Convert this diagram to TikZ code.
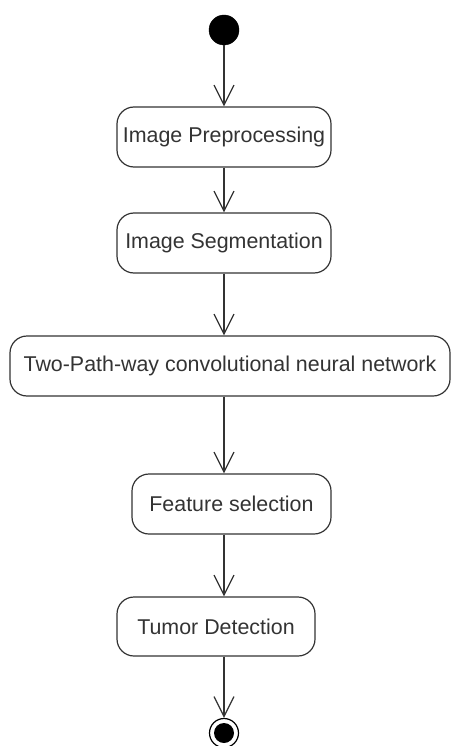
\documentclass[tikz,border=0pt]{standalone}
\usepackage{fontspec}
\setmainfont{Liberation Sans}
\usetikzlibrary{arrows.meta}
\definecolor{ln}{HTML}{333333}
\begin{document}
\begin{tikzpicture}[x=1pt,y=-1pt,
  act/.style={draw=ln, line width=1.2pt, rounded corners=17pt, minimum height=60pt,
    inner sep=0pt, text=ln, font=\fontsize{21.4}{24}\selectfont},
  arr/.style={draw=ln, line width=1.2pt, -{Straight Barb[length=20pt,width=20pt,line width=1.2pt]}}
]
\useasboundingbox (0,0) rectangle (451,746);
\node[circle, fill=black, draw=black, minimum size=30pt, inner sep=0pt] (s) at (224,30) {};
\node[act, minimum width=214pt] (n1) at (224,137) {Image Preprocessing};
\node[act, minimum width=214pt] (n2) at (224,243) {Image Segmentation};
\node[act, minimum width=440pt] (n3) at (230,366) {Two-Path-way convolutional neural network};
\node[act, minimum width=199pt] (n4) at (231.5,504) {Feature selection};
\node[act, minimum width=198pt, minimum height=59pt] (n5) at (216,626.5) {Tumor Detection};
\node[circle, draw=black, line width=1.2pt, minimum size=29pt, inner sep=0pt] (e) at (224,733) {};
\node[circle, fill=black, minimum size=20pt, inner sep=0pt] (ei) at (e) {};
\draw[arr] (s.south) -- (n1.north);
\draw[arr] (n1.south) -- (n2.north);
\draw[arr] (n2.south) -- (n3.north -| n2);
\draw[arr] (n3.south -| n2) -- (n4.north -| n2);
\draw[arr] (n4.south -| n2) -- (n5.north -| n2);
\draw[arr] (n5.south -| n2) -- (e.north);
\end{tikzpicture}
\end{document}
